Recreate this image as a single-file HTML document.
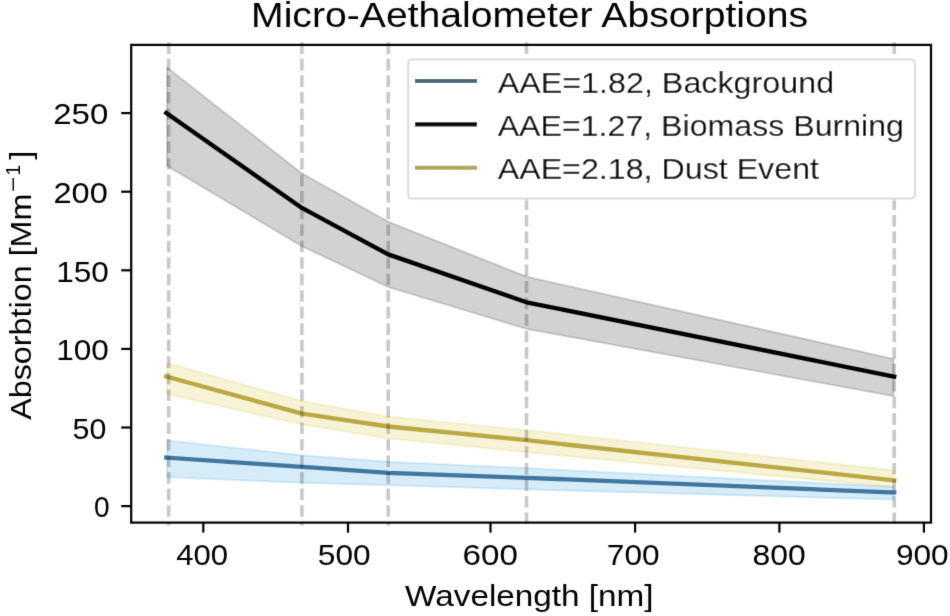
<!DOCTYPE html>
<html><head><meta charset="utf-8"><title>Micro-Aethalometer Absorptions</title>
<style>html,body{margin:0;padding:0;background:#fff;}body{width:950px;height:616px;overflow:hidden;font-family:"Liberation Sans",sans-serif;}svg{display:block;}</style>
</head><body>
<svg width="950" height="616" viewBox="0 0 950 616">
<defs><filter id="soft" x="0" y="0" width="950" height="616" filterUnits="userSpaceOnUse"><feConvolveMatrix order="3" kernelMatrix="0.01134 0.08382 0.01134 0.08382 0.61935 0.08382 0.01134 0.08382 0.01134" edgeMode="duplicate" preserveAlpha="false"/></filter></defs>
<rect width="950" height="616" fill="#fff"/>
<g filter="url(#soft)">
<polygon points="167.0,67.4 301.9,173.4 388.2,221.8 526.5,276.7 893.5,358.9 893.5,396.1 526.5,328.8 388.2,287.0 301.9,246.2 167.0,165.7" fill="#000" fill-opacity="0.176" stroke="#000" stroke-opacity="0.176" stroke-width="1.8" stroke-linejoin="miter"/>
<polygon points="167.0,363.0 301.9,401.2 388.2,416.7 526.5,430.2 893.5,470.3 893.5,487.3 526.5,452.1 388.2,438.3 301.9,424.3 167.0,394.1" fill="#cfc02c" fill-opacity="0.19" stroke="#cfc02c" stroke-opacity="0.19" stroke-width="1.8" stroke-linejoin="miter"/>
<polygon points="167.0,440.4 301.9,455.3 388.2,461.8 526.5,468.2 893.5,486.9 893.5,499.6 526.5,489.3 388.2,485.2 301.9,482.7 167.0,477.1" fill="#2a9ad8" fill-opacity="0.19" stroke="#2a9ad8" stroke-opacity="0.19" stroke-width="1.8" stroke-linejoin="miter"/>
<polyline points="166.3,457.6 301.9,466.8 388.2,472.8 526.5,477.8 894.2,492.5" fill="none" stroke="#3f77a0" stroke-width="4.3" stroke-linejoin="round" stroke-linecap="square"/>
<polyline points="166.3,113.0 301.9,207.9 388.2,254.4 526.5,302.3 894.2,376.6" fill="none" stroke="#000000" stroke-width="4.3" stroke-linejoin="round" stroke-linecap="square"/>
<polyline points="166.3,376.5 301.9,413.6 388.2,426.5 526.5,440.2 894.2,480.3" fill="none" stroke="#bba843" stroke-width="4.3" stroke-linejoin="round" stroke-linecap="square"/>
<line x1="168.7" y1="42.3" x2="168.7" y2="525.4" stroke="#000" stroke-opacity="0.21" stroke-width="3.6" stroke-dasharray="11.6 4.93"/>
<line x1="301.9" y1="42.3" x2="301.9" y2="525.4" stroke="#000" stroke-opacity="0.21" stroke-width="3.6" stroke-dasharray="11.6 4.93"/>
<line x1="388.2" y1="42.3" x2="388.2" y2="525.4" stroke="#000" stroke-opacity="0.21" stroke-width="3.6" stroke-dasharray="11.6 4.93"/>
<line x1="526.5" y1="42.3" x2="526.5" y2="54.0" stroke="#000" stroke-opacity="0.21" stroke-width="3.6" stroke-dasharray="11.6 4.93"/>
<line x1="526.5" y1="198.4" x2="526.5" y2="525.4" stroke="#000" stroke-opacity="0.21" stroke-width="3.6" stroke-dasharray="11.6 4.93"/>
<line x1="894.2" y1="42.3" x2="894.2" y2="54.0" stroke="#000" stroke-opacity="0.21" stroke-width="3.6" stroke-dasharray="11.6 4.93"/>
<line x1="894.2" y1="198.4" x2="894.2" y2="525.4" stroke="#000" stroke-opacity="0.21" stroke-width="3.6" stroke-dasharray="11.6 4.93"/>
<rect x="131.2" y="44.9" width="799.8" height="477.7" fill="none" stroke="#000" stroke-width="2.2"/>
<line x1="121.2" y1="506.1" x2="131.2" y2="506.1" stroke="#000" stroke-width="2.2"/>
<line x1="121.2" y1="427.5" x2="131.2" y2="427.5" stroke="#000" stroke-width="2.2"/>
<line x1="121.2" y1="348.9" x2="131.2" y2="348.9" stroke="#000" stroke-width="2.2"/>
<line x1="121.2" y1="270.3" x2="131.2" y2="270.3" stroke="#000" stroke-width="2.2"/>
<line x1="121.2" y1="191.7" x2="131.2" y2="191.7" stroke="#000" stroke-width="2.2"/>
<line x1="121.2" y1="113.1" x2="131.2" y2="113.1" stroke="#000" stroke-width="2.2"/>
<line x1="203.3" y1="522.6" x2="203.3" y2="532.6" stroke="#000" stroke-width="2.2"/>
<line x1="348.0" y1="522.6" x2="348.0" y2="532.6" stroke="#000" stroke-width="2.2"/>
<line x1="490.5" y1="522.6" x2="490.5" y2="532.6" stroke="#000" stroke-width="2.2"/>
<line x1="635.1" y1="522.6" x2="635.1" y2="532.6" stroke="#000" stroke-width="2.2"/>
<line x1="779.4" y1="522.6" x2="779.4" y2="532.6" stroke="#000" stroke-width="2.2"/>
<line x1="923.9" y1="522.6" x2="923.9" y2="532.6" stroke="#000" stroke-width="2.2"/>
<rect x="408.2" y="59.5" width="506.8" height="139" rx="3.5" ry="3.5" fill="#fff" stroke="#dcdcdc" stroke-width="2"/>
<line x1="417" y1="81.0" x2="475" y2="81.0" stroke="#46687a" stroke-width="4.1" stroke-linecap="square"/>
<line x1="417" y1="124.4" x2="475" y2="124.4" stroke="#000000" stroke-width="4.1" stroke-linecap="square"/>
<line x1="417" y1="167.7" x2="475" y2="167.7" stroke="#b2a458" stroke-width="4.1" stroke-linecap="square"/>
<g font-family="&quot;Liberation Sans&quot;, sans-serif" fill="#000">
<text x="94.09" y="516.60" font-size="29.3" textLength="15.61" lengthAdjust="spacingAndGlyphs">0</text>
<text x="72.64" y="438.50" font-size="29.3" textLength="33.70" lengthAdjust="spacingAndGlyphs">50</text>
<text x="56.18" y="359.80" font-size="29.3" textLength="52.60" lengthAdjust="spacingAndGlyphs">100</text>
<text x="56.18" y="281.50" font-size="29.3" textLength="52.60" lengthAdjust="spacingAndGlyphs">150</text>
<text x="53.41" y="202.80" font-size="29.3" textLength="54.35" lengthAdjust="spacingAndGlyphs">200</text>
<text x="53.27" y="124.30" font-size="29.3" textLength="54.99" lengthAdjust="spacingAndGlyphs">250</text>
<text x="176.18" y="565.20" font-size="29.3" textLength="51.85" lengthAdjust="spacingAndGlyphs">400</text>
<text x="317.80" y="565.20" font-size="29.3" textLength="52.75" lengthAdjust="spacingAndGlyphs">500</text>
<text x="462.53" y="565.20" font-size="29.3" textLength="55.35" lengthAdjust="spacingAndGlyphs">600</text>
<text x="606.86" y="565.20" font-size="29.3" textLength="52.78" lengthAdjust="spacingAndGlyphs">700</text>
<text x="752.43" y="565.20" font-size="29.3" textLength="53.20" lengthAdjust="spacingAndGlyphs">800</text>
<text x="895.93" y="565.20" font-size="29.3" textLength="52.73" lengthAdjust="spacingAndGlyphs">900</text>
<text x="497.70" y="93.30" font-size="29.3" textLength="336.42" lengthAdjust="spacingAndGlyphs">AAE=1.82, Background</text>
<text x="497.70" y="136.40" font-size="29.3" textLength="406.31" lengthAdjust="spacingAndGlyphs">AAE=1.27, Biomass Burning</text>
<text x="497.70" y="179.40" font-size="29.3" textLength="321.30" lengthAdjust="spacingAndGlyphs">AAE=2.18, Dust Event</text>
<text x="251.07" y="27.00" font-size="35.2" textLength="557.04" lengthAdjust="spacingAndGlyphs">Micro-Aethalometer Absorptions</text>
<text x="405.09" y="606.00" font-size="29.3" textLength="248.53" lengthAdjust="spacingAndGlyphs">Wavelength [nm]</text>
<text transform="rotate(-90)" x="-419.81" y="30.80" font-size="29.3" textLength="226.23" lengthAdjust="spacingAndGlyphs">Absorbtion [Mm</text>
<text transform="rotate(-90)" x="-192.02" y="20.30" font-size="20.5" textLength="15.36" lengthAdjust="spacingAndGlyphs">−</text>
<text transform="rotate(-90)" x="-175.55" y="20.30" font-size="20.5" textLength="10.74" lengthAdjust="spacingAndGlyphs">1</text>
<text transform="rotate(-90)" x="-159.72" y="30.80" font-size="29.3" textLength="9.11" lengthAdjust="spacingAndGlyphs">]</text>
</g>
</g>
</svg>
</body></html>
